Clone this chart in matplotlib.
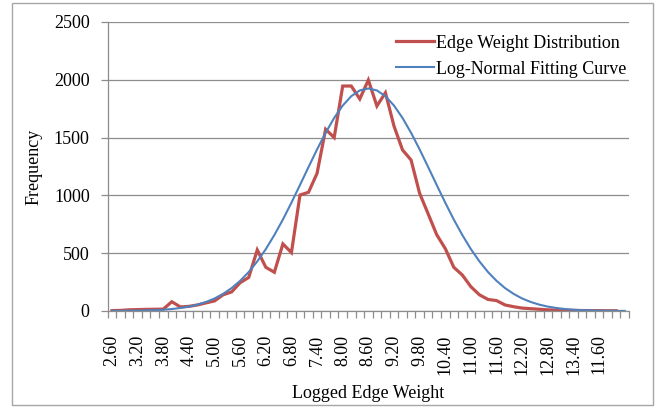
import matplotlib.pyplot as plt
from matplotlib.patches import Rectangle

# logged edge weight bins, 2.6 to 14.6 in steps of 0.2
bins = [round(2.6 + 0.2 * k, 1) for k in range(61)]

# observed counts per bin
edge_weight = [3, 5, 10, 12, 14, 15, 16, 80, 35, 40,
               52, 70, 87, 140, 165, 245, 290, 528, 378, 335,
               580, 505, 1003, 1027, 1191, 1572, 1500, 1946, 1946, 1834,
               1998, 1773, 1888, 1600, 1393, 1306, 1018, 840, 660, 540,
               378, 311, 210, 140, 100, 90, 52, 37, 25, 20,
               15, 10, 8, 6, 5, 4, 3, 3, 2, 2]

# fitted log-normal curve
fit_curve = [1, 1, 2, 3, 5, 7, 11, 17, 26, 38,
             55, 78, 108, 148, 198, 261, 337, 429, 535, 657,
             791, 937, 1090, 1245, 1398, 1541, 1670, 1777, 1858, 1908,
             1925, 1908, 1858, 1777, 1670, 1541, 1398, 1245, 1090, 937,
             791, 657, 535, 429, 337, 261, 198, 148, 108, 78,
             55, 38, 26, 17, 11, 7, 5, 3, 2, 1, 1]

# axis labels shown every third bin (the last one reads 11.60 on the chart)
tick_labels = ["2.60", "3.20", "3.80", "4.40", "5.00", "5.60", "6.20", "6.80",
               "7.40", "8.00", "8.60", "9.20", "9.80", "10.40", "11.00",
               "11.60", "12.20", "12.80", "13.40", "11.60"]

plt.rcParams['font.family'] = ['Liberation Serif', 'DejaVu Serif']

fig = plt.figure(figsize=(6.56, 4.07), dpi=100)
ax = fig.add_axes([0.1642, 0.2359, 0.7946, 0.7101])

ax.plot(range(len(edge_weight)), edge_weight, color='#C0504D', lw=2.3,
        label='Edge Weight Distribution', solid_joinstyle='miter')
ax.plot(range(len(fit_curve)), fit_curve, color='#4F81BD', lw=1.5,
        label='Log-Normal Fitting Curve')

ax.set_xlim(-0.5, len(bins) - 0.5)
ax.set_ylim(0, 2500)
ax.set_yticks(range(0, 2501, 500))
ax.yaxis.grid(True, color='#8c8c8c', lw=0.9)
ax.set_axisbelow(True)

ax.set_xticks(range(0, 3 * len(tick_labels), 3))
ax.set_xticklabels(tick_labels, rotation=90, va='top')
ax.set_xticks([k - 0.5 for k in range(len(bins) + 1)], minor=True)
ax.tick_params(axis='x', which='major', length=0, pad=17, labelsize=13)
ax.tick_params(axis='x', which='minor', length=5, color='#8c8c8c', width=0.9)
ax.tick_params(axis='y', length=5, color='#8c8c8c', width=0.9, pad=8, labelsize=13)

for side in ('top', 'right'):
    ax.spines[side].set_visible(False)
for side in ('left', 'bottom'):
    ax.spines[side].set_color('#8c8c8c')
    ax.spines[side].set_linewidth(0.9)

ax.set_ylabel('Frequency', fontsize=13, labelpad=8)
ax.set_xlabel('Logged Edge Weight', fontsize=13)
ax.xaxis.set_label_coords(0.5, -0.255)

ax.legend(loc='upper right', bbox_to_anchor=(1.02, 1.0), frameon=False,
          fontsize=13, handlelength=2.1, handletextpad=0.15,
          labelspacing=0.5, borderaxespad=0.3)

fig.patches.append(Rectangle((12 / 656, 2 / 407), 641 / 656, 402 / 407,
                             transform=fig.transFigure, fill=False,
                             edgecolor='#a6a6a6', lw=1))

fig.savefig('out.png', dpi=100)
